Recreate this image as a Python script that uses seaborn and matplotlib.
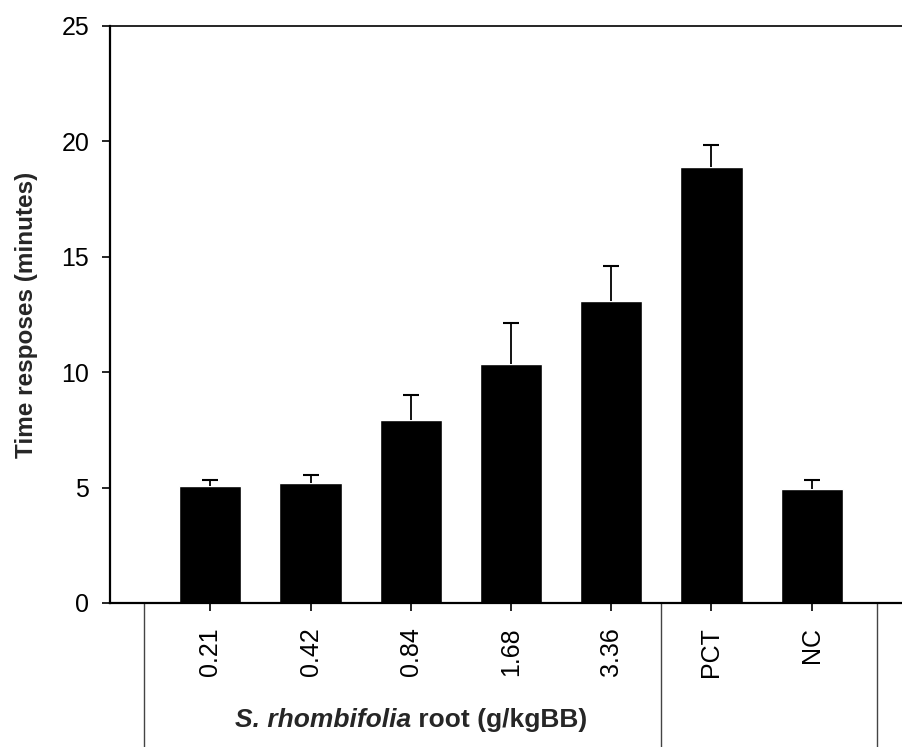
import pandas as pd
import matplotlib
matplotlib.use('Agg')
import matplotlib.pyplot as plt
import matplotlib.transforms as mtransforms
from matplotlib.offsetbox import TextArea, HPacker, AnnotationBbox
import seaborn as sns

# Datos
tratamientos = ['0.21', '0.42', '0.84', '1.68', '3.36', 'PCT', 'NC']
tiempo_medio = [5.05, 5.22, 7.93, 10.34, 13.08, 18.89, 4.96]
error_sup = [0.27, 0.34, 1.07, 1.81, 1.52, 0.96, 0.38]

df = pd.DataFrame({'Tratamiento': tratamientos, 'Tiempo': tiempo_medio})

sns.set_style('ticks')
plt.rcParams['font.family'] = ['Liberation Sans', 'DejaVu Sans']

fig = plt.figure(figsize=(9.02, 7.47), dpi=100)
ax = fig.add_axes([0.122, 0.1928, 0.889, 0.7724])

sns.barplot(data=df, x='Tratamiento', y='Tiempo', color='black',
            width=0.62, errorbar=None, saturation=1, ax=ax)

# Barras de error (solo hacia arriba)
_, caps, _ = ax.errorbar(range(len(tratamientos)), tiempo_medio,
                         yerr=[[0] * len(error_sup), error_sup],
                         fmt='none', ecolor='black', elinewidth=1.3,
                         capsize=6, capthick=1.5)
caps[0].set_visible(False)  # sin tapa inferior

ax.set_xlim(-1.0, 7.0)
ax.set_ylim(0, 25)
ax.set_yticks([0, 5, 10, 15, 20, 25])
ax.set_xlabel('')
ax.set_ylabel('Time resposes (minutes)', fontsize=17.5, fontweight='bold', labelpad=17)

ax.tick_params(axis='y', direction='out', length=6, width=1.2, labelsize=18, pad=9, colors='black')
ax.tick_params(axis='x', direction='out', length=5.5, width=1.2, labelsize=18, pad=12, colors='black')
plt.xticks(rotation=90)

for lado in ['left', 'bottom']:
    ax.spines[lado].set_linewidth(1.6)
    ax.spines[lado].set_color('black')
ax.spines['top'].set_linewidth(1.2)
ax.spines['top'].set_color('black')
ax.spines['top'].set_visible(True)
ax.spines['right'].set_visible(False)

# Separadores de grupos bajo el eje
limites_grupo = [-0.66, 4.5, 6.65]
trans = mtransforms.blended_transform_factory(ax.transData, ax.transAxes)
for xl in limites_grupo:
    ax.plot([xl, xl], [0, -0.3], transform=trans, color='#444444',
            linewidth=1.0, clip_on=False)

# Etiqueta del grupo con nombre de especie en cursiva
parte_1 = TextArea('S. rhombifolia', textprops=dict(fontsize=19, fontweight='bold', fontstyle='italic'))
parte_2 = TextArea(' root (g/kgBB)', textprops=dict(fontsize=19, fontweight='bold'))
caja = HPacker(children=[parte_1, parte_2], align='baseline', pad=0, sep=0)
etiqueta = AnnotationBbox(caja, (2, -0.203), xycoords=trans, frameon=False,
                          box_alignment=(0.5, 0.5), annotation_clip=False)
ax.add_artist(etiqueta)

plt.savefig('out.png', dpi=100)
